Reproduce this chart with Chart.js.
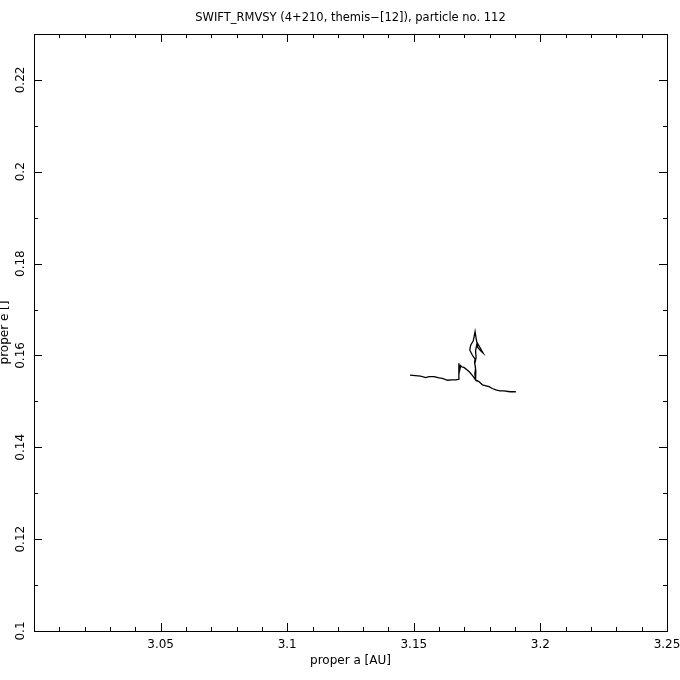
<!DOCTYPE html>
<html>
<head>
<meta charset="utf-8">
<script src="https://cdn.jsdelivr.net/npm/chart.js@4/dist/chart.umd.min.js"></script>
<style>
html,body{margin:0;padding:0;background:#fff;}
#wrap{width:680px;height:680px;}
</style>
</head>
<body>
<div id="wrap"><canvas id="c" width="680" height="680"></canvas></div>
<script>
const chartTitle = "SWIFT_RMVSY (4+210, themis\u2212[12]), particle no. 112";
const xTitle = "proper a [AU]";
const yTitle = "proper e []";
const xTickLabels = ["3.05", "3.1", "3.15", "3.2", "3.25"];
const yTickLabels = ["0.1", "0.12", "0.14", "0.16", "0.18", "0.2", "0.22"];
const xRange = [3.0, 3.25];
const yRange = [0.1, 0.23];

const properA = [3.1485,3.1527,3.1547,3.1560,3.1580,3.1600,3.1613,3.1633,3.1650,3.1665,
  3.1676,3.1678,3.1682,3.1679,3.1685,3.1690,3.1698,3.1710,3.1720,3.1732,
  3.1744,3.1741,3.1744,3.1740,3.1742,3.1731,3.1721,3.1725,3.1735,3.1742,
  3.1746,3.1752,3.1764,3.1774,3.1766,3.1750,3.1744,3.1746,3.1741,3.1745,
  3.1744,3.1757,3.1771,3.1785,3.1797,3.1810,3.1824,3.1840,3.1856,3.1880,3.1903];
const properE = [0.1557,0.1555,0.1552,0.1554,0.1554,0.1551,0.1550,0.1546,0.1547,0.1547,
  0.1548,0.1583,0.1570,0.1562,0.1578,0.1575,0.1574,0.1569,0.1564,0.1556,
  0.1547,0.1560,0.1572,0.1585,0.1592,0.1601,0.1612,0.1623,0.1632,0.1652,
  0.1638,0.1618,0.1610,0.1605,0.1613,0.1628,0.1610,0.1595,0.1582,0.1566,
  0.1547,0.1543,0.1536,0.1534,0.1532,0.1528,0.1525,0.1523,0.1523,0.1521,0.1521];

const points = properA.map((a, i) => ({x: a, y: properE[i]}));
const FONT = "12px 'DejaVu Sans', sans-serif";

const framePlugin = {
  id: 'frame',
  afterDraw(chart) {
    const ctx = chart.ctx, ca = chart.chartArea;
    const xs = chart.scales.x, ys = chart.scales.y;
    ctx.save();
    ctx.strokeStyle = '#000';
    ctx.lineWidth = 1;
    ctx.strokeRect(Math.round(ca.left) + 0.5, Math.round(ca.top) + 0.5,
                   Math.round(ca.right - ca.left), Math.round(ca.bottom - ca.top));
    ctx.beginPath();
    for (let i = 1; i < 25; i++) {
      const v = xRange[0] + i * 0.01;
      const px = Math.round(xs.getPixelForValue(v)) + 0.5;
      const len = (i % 5 === 0) ? 8 : 4;
      ctx.moveTo(px, ca.bottom); ctx.lineTo(px, ca.bottom - len);
      ctx.moveTo(px, ca.top); ctx.lineTo(px, ca.top + len);
    }
    for (let i = 1; i < 13; i++) {
      const v = yRange[0] + i * 0.01;
      const py = Math.round(ys.getPixelForValue(v)) + 0.5;
      const len = (i % 2 === 0) ? 8 : 4;
      ctx.moveTo(ca.left, py); ctx.lineTo(ca.left + len, py);
      ctx.moveTo(ca.right, py); ctx.lineTo(ca.right - len, py);
    }
    ctx.stroke();

    ctx.fillStyle = '#000';
    ctx.textAlign = 'center';
    ctx.textBaseline = 'middle';
    ctx.font = "11.5px 'DejaVu Sans', sans-serif";
    ctx.fillText(chartTitle, (ca.left + ca.right) / 2, 18);
    ctx.font = FONT;
    xTickLabels.forEach(t => {
      ctx.fillText(t, xs.getPixelForValue(parseFloat(t)), 645);
    });
    ctx.fillText(xTitle, (ca.left + ca.right) / 2, 661);
    yTickLabels.forEach(t => {
      const py = ys.getPixelForValue(parseFloat(t));
      ctx.save();
      ctx.translate(21, py);
      ctx.rotate(-Math.PI / 2);
      ctx.fillText(t, 0, 0);
      ctx.restore();
    });
    ctx.save();
    ctx.translate(5, (ca.top + ca.bottom) / 2);
    ctx.rotate(-Math.PI / 2);
    ctx.fillText(yTitle, 0, 0);
    ctx.restore();
    ctx.restore();
  }
};

new Chart(document.getElementById('c'), {
  type: 'scatter',
  data: {
    datasets: [{
      data: points,
      showLine: true,
      borderColor: '#000',
      borderWidth: 1.3,
      pointRadius: 0,
      tension: 0,
      fill: false
    }]
  },
  options: {
    responsive: false,
    animation: false,
    devicePixelRatio: 1,
    layout: { padding: { left: 34, right: 13, top: 34, bottom: 49 } },
    plugins: { legend: { display: false }, tooltip: { enabled: false }, title: { display: false } },
    scales: {
      x: { type: 'linear', min: xRange[0], max: xRange[1], display: false },
      y: { type: 'linear', min: yRange[0], max: yRange[1], display: false }
    }
  },
  plugins: [framePlugin]
});
</script>
</body>
</html>
